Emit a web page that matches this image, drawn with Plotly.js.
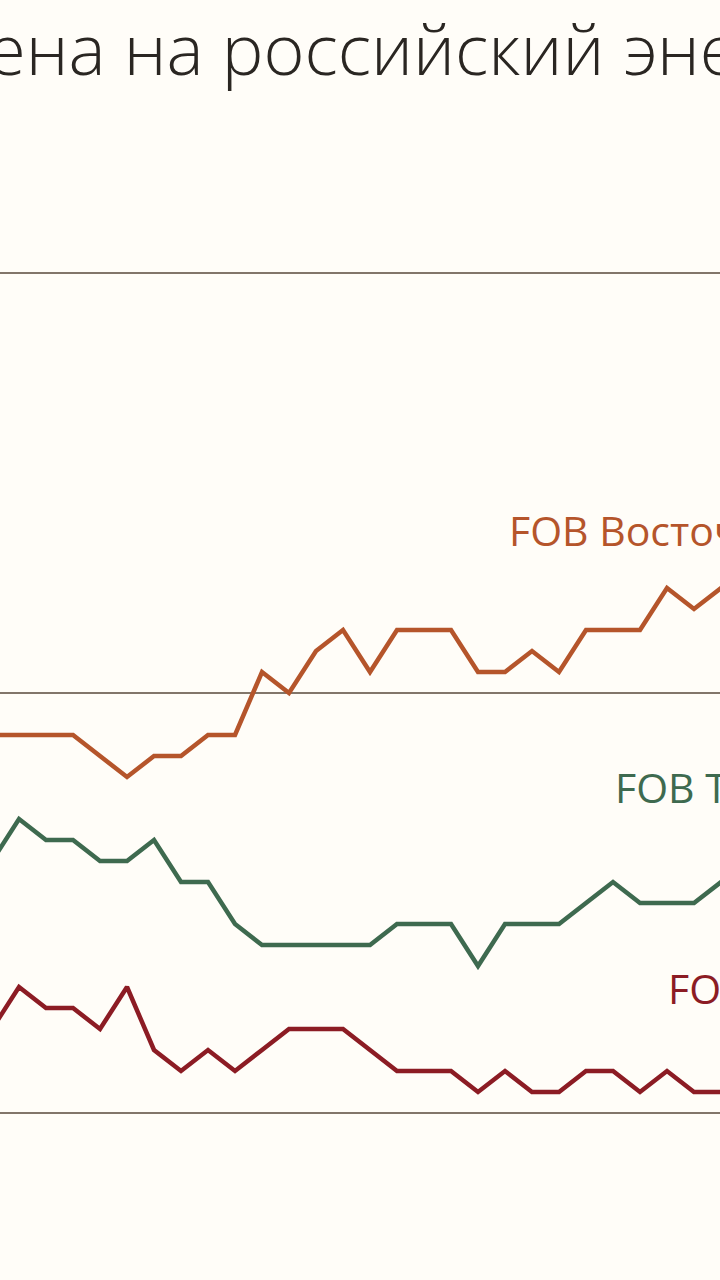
<!DOCTYPE html>
<html>
<head>
<meta charset="utf-8">
<script src="https://cdn.plot.ly/plotly-3.0.1.min.js"></script>
<style>
  html, body { margin: 0; padding: 0; background: #fffdf8; }
  #chart { width: 720px; height: 1280px; }
</style>
</head>
<body>
<div id="chart"></div>
<script>
// weekly points, the view shows a slice of a wider chart
var weeks = [1, 2, 3, 4, 5, 6, 7, 8, 9, 10, 11, 12, 13, 14, 15, 16, 17, 18, 19, 20,
             21, 22, 23, 24, 25, 26, 27, 28, 29];
var vostochny = [45, 45, 45, 45, 42.5, 40, 42.5, 42.5, 45, 45, 52.5, 50, 55, 57.5, 52.5,
                 57.5, 57.5, 57.5, 52.5, 52.5, 55, 52.5, 57.5, 57.5, 57.5, 62.5, 60, 62.5, 62.5];
var taman = [30, 35, 32.5, 32.5, 30, 30, 32.5, 27.5, 27.5, 22.5, 20, 20, 20, 20, 20,
             22.5, 22.5, 22.5, 17.5, 22.5, 22.5, 22.5, 25, 27.5, 25, 25, 25, 27.5, 30];
var baltic = [10, 15, 12.5, 12.5, 10, 15, 7.5, 5, 7.5, 5, 7.5, 10, 10, 10, 7.5,
              5, 5, 5, 2.5, 5, 2.5, 2.5, 5, 5, 2.5, 5, 2.5, 2.5, 2.5];
var gridVals = [0, 50, 100];

var colOrange = '#b5552b';
var colGreen = '#3e6a4f';
var colRed = '#8c1c24';

function line(y, color) {
  return {
    x: weeks, y: y, type: 'scatter', mode: 'lines',
    line: { color: color, width: 4.5, shape: 'linear' },
    hoverinfo: 'skip'
  };
}

var traces = [line(vostochny, colOrange), line(taman, colGreen), line(baltic, colRed)];

var labelFont = { family: 'Open Sans, sans-serif', size: 41 };

var layout = {
  width: 720, height: 1280,
  paper_bgcolor: '#fffdf8', plot_bgcolor: '#fffdf8',
  margin: { l: 0, r: 0, t: 231, b: 125 },
  showlegend: false,
  xaxis: {
    range: [1.296, 27.963], showgrid: false, zeroline: false,
    showticklabels: false, ticks: '', showline: false, fixedrange: true
  },
  yaxis: {
    range: [-5, 105], tickvals: gridVals, showgrid: true,
    gridcolor: '#82766a', gridwidth: 2, zeroline: false,
    showticklabels: false, ticks: '', showline: false, fixedrange: true
  },
  annotations: [
    {
      text: 'Цена на российский энергетический уголь',
      xref: 'paper', yref: 'paper', x: -0.0903, y: 1.1976,
      xanchor: 'left', yanchor: 'middle', showarrow: false,
      font: { family: 'Open Sans, sans-serif', size: 70, weight: 300, color: '#2a2622' }
    },
    {
      text: 'FOB Восточный', xref: 'paper', yref: 'paper', x: 0.7035, y: 0.6764,
      xanchor: 'left', yanchor: 'middle', showarrow: false,
      font: Object.assign({ color: colOrange }, labelFont)
    },
    {
      text: 'FOB Тамань', xref: 'paper', yref: 'paper', x: 0.852, y: 0.3983,
      xanchor: 'left', yanchor: 'middle', showarrow: false,
      font: Object.assign({ color: colGreen }, labelFont)
    },
    {
      text: 'FOB Балтика', xref: 'paper', yref: 'paper', x: 0.925, y: 0.1807,
      xanchor: 'left', yanchor: 'middle', showarrow: false,
      font: Object.assign({ color: colRed }, labelFont)
    }
  ]
};

Plotly.newPlot('chart', traces, layout, { displayModeBar: false, staticPlot: true });
</script>
</body>
</html>
